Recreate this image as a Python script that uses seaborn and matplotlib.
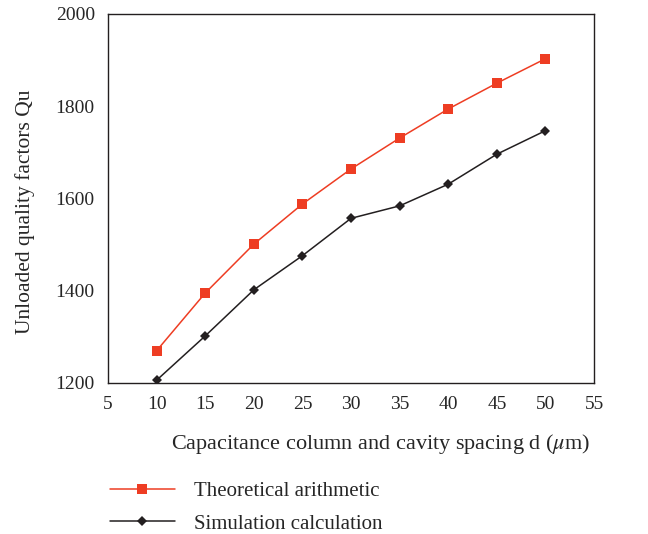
import matplotlib
matplotlib.use("Agg")
import matplotlib.pyplot as plt
import seaborn as sns
import pandas as pd

spacing = [10, 15, 20, 25, 30, 35, 40, 45, 50]
theoretical = [1270, 1395, 1501, 1588, 1664, 1731, 1794, 1850, 1903]
simulation = [1206, 1302, 1402, 1476, 1557, 1584, 1631, 1696, 1747]
series_names = ["Theoretical arithmetic", "Simulation calculation"]

df = pd.DataFrame({
    "d": spacing * 2,
    "Qu": theoretical + simulation,
    "series": [series_names[0]] * len(spacing) + [series_names[1]] * len(spacing),
})

sns.set_style("white")
plt.rcParams["font.family"] = ["Liberation Serif", "DejaVu Serif"]
plt.rcParams["mathtext.fontset"] = "stix"

fig = plt.figure(figsize=(6.48, 5.34), dpi=100)
ax = fig.add_axes([0.1667, 0.2828, 0.75, 0.691])

palette = {series_names[0]: "#ee3d23", series_names[1]: "#231f20"}
markers = {series_names[0]: "s", series_names[1]: "D"}
sizes_m = {series_names[0]: 7, series_names[1]: 5}

for name in series_names:
    sub = df[df["series"] == name]
    sns.lineplot(data=sub, x="d", y="Qu", ax=ax, color=palette[name],
                 marker=markers[name], markersize=sizes_m[name],
                 markeredgewidth=0, linewidth=1.1, label=name, legend=False)

ax.set_xlim(5, 55)
ax.set_ylim(1200, 2000)
ax.set_xticks(range(5, 56, 5))
ax.set_yticks([1200, 1400, 1600, 1800, 2000])
ax.tick_params(axis="both", labelsize=14, length=0, pad=9.5)
for s in ax.spines.values():
    s.set_color("#231f20")
    s.set_linewidth(1.0)

ax.set_xlabel(r"Capacitance column and cavity spacing d ($\mu$m)", fontsize=16)
ax.set_ylabel("Unloaded quality factors Qu", fontsize=15.5)
ax.xaxis.set_label_coords(0.56, -0.133)
ax.yaxis.set_label_coords(-0.150, 0.463)

handles, labels = ax.get_legend_handles_labels()
fig.legend(handles, labels, loc="upper left", bbox_to_anchor=(0.157, 0.114),
           frameon=False, fontsize=15, handlelength=3.1, handletextpad=0.95,
           labelspacing=0.62, borderaxespad=0)

fig.savefig("out.png", dpi=100)
